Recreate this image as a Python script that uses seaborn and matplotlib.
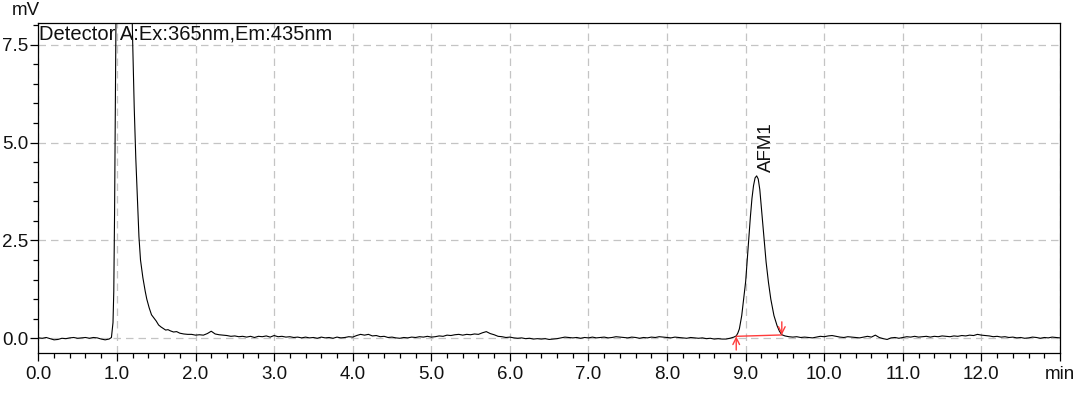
import matplotlib
matplotlib.use("Agg")
import matplotlib.pyplot as plt
import seaborn as sns
import pandas as pd
from matplotlib.ticker import MultipleLocator, FixedLocator, FixedFormatter

# ---- data (time in min, signal in mV) ----
time_pre = [0.00, 0.05, 0.10, 0.15, 0.20, 0.25, 0.30, 0.35, 0.40, 0.45, 0.50,
            0.55, 0.60, 0.65, 0.70, 0.75, 0.80, 0.85, 0.90]
sig_pre = [0.01, 0.00, 0.02, -0.01, -0.04, -0.03, 0.00, -0.01, 0.01, 0.02, 0.00,
           0.01, 0.02, 0.00, 0.02, 0.01, -0.02, -0.04, -0.02]

time_solvent = [0.93, 0.95, 0.96, 0.97, 0.98, 0.99, 1.00, 1.03, 1.07, 1.10, 1.13,
                1.16, 1.18, 1.20, 1.22, 1.24, 1.26, 1.28, 1.30, 1.33, 1.36, 1.38,
                1.41, 1.44, 1.47, 1.50, 1.53, 1.56, 1.59, 1.62, 1.65, 1.68, 1.72,
                1.76, 1.80, 1.85, 1.90, 1.95]
sig_solvent = [0.02, 0.40, 1.20, 3.20, 6.00, 8.80, 11.5, 16.0, 18.5, 18.0, 15.0,
               11.5, 9.50, 7.60, 5.90, 4.60, 3.60, 2.60, 2.00, 1.55, 1.20, 1.00,
               0.78, 0.60, 0.52, 0.44, 0.34, 0.29, 0.25, 0.21, 0.22, 0.19, 0.16,
               0.17, 0.13, 0.11, 0.10, 0.10]

time_mid = [2.00, 2.05, 2.10, 2.15, 2.20, 2.25, 2.30, 2.35, 2.40, 2.45, 2.50,
            2.55, 2.60, 2.65, 2.70, 2.75, 2.80, 2.85, 2.90, 2.95, 3.00, 3.05,
            3.10, 3.15, 3.20, 3.25, 3.30, 3.35, 3.40, 3.45, 3.50, 3.55, 3.60,
            3.65, 3.70, 3.75, 3.80, 3.85, 3.90, 3.95, 4.00, 4.05, 4.10, 4.15,
            4.20, 4.25, 4.30, 4.35, 4.40, 4.45, 4.50, 4.55, 4.60, 4.65, 4.70,
            4.75, 4.80, 4.85, 4.90, 4.95, 5.00, 5.05, 5.10, 5.15, 5.20, 5.25,
            5.30, 5.35, 5.40, 5.45, 5.50, 5.55, 5.60, 5.65, 5.70, 5.75, 5.80,
            5.85, 5.90, 5.95, 6.00, 6.05, 6.10, 6.15, 6.20, 6.25, 6.30, 6.35,
            6.40, 6.45, 6.50, 6.55, 6.60, 6.65, 6.70, 6.75, 6.80, 6.85, 6.90,
            6.95, 7.00, 7.05, 7.10, 7.15, 7.20, 7.25, 7.30, 7.35, 7.40, 7.45,
            7.50, 7.55, 7.60, 7.65, 7.70, 7.75, 7.80, 7.85, 7.90, 7.95, 8.00,
            8.05, 8.10, 8.15, 8.20, 8.25, 8.30, 8.35, 8.40, 8.45, 8.50, 8.55,
            8.60, 8.65, 8.70, 8.75, 8.80, 8.85]
sig_mid = [0.08, 0.09, 0.08, 0.12, 0.18, 0.11, 0.09, 0.08, 0.07, 0.05, 0.06,
           0.04, 0.05, 0.03, 0.05, 0.02, 0.05, 0.04, 0.06, 0.03, 0.07, 0.04,
           0.05, 0.03, 0.04, 0.02, 0.03, 0.01, 0.03, 0.01, 0.02, 0.00, 0.03,
           0.01, 0.02, 0.00, 0.03, 0.01, 0.02, 0.04, 0.03, 0.07, 0.10, 0.08,
           0.10, 0.06, 0.07, 0.04, 0.05, 0.02, 0.03, 0.01, 0.00, 0.02, 0.01,
           0.03, 0.02, 0.04, 0.03, 0.05, 0.03, 0.04, 0.06, 0.05, 0.08, 0.07,
           0.09, 0.10, 0.08, 0.10, 0.09, 0.11, 0.10, 0.14, 0.17, 0.12, 0.09,
           0.05, 0.04, 0.02, 0.03, 0.01, 0.00, 0.01, -0.01, 0.00, -0.02, -0.01,
           -0.02, -0.01, -0.03, -0.02, -0.01, 0.01, 0.03, 0.02, 0.01, 0.02, 0.00,
           0.02, 0.01, 0.03, 0.01, 0.02, 0.03, 0.01, 0.02, 0.04, 0.03, 0.02,
           0.01, 0.03, 0.02, 0.00, 0.02, 0.01, 0.03, 0.02, 0.04, 0.03, 0.02,
           0.01, 0.03, 0.02, 0.01, 0.00, 0.02, 0.01, 0.00, 0.01, -0.01, 0.00,
           -0.02, -0.01, -0.02, -0.02, 0.00, 0.03]

time_afm1 = [8.88, 8.90, 8.92, 8.95, 8.97, 9.00, 9.02, 9.04, 9.06, 9.08, 9.10,
             9.12, 9.14, 9.16, 9.18, 9.19, 9.21, 9.24, 9.26, 9.29, 9.32, 9.36,
             9.40, 9.43, 9.46]
sig_afm1 = [0.06, 0.13, 0.24, 0.58, 0.92, 1.45, 2.00, 2.55, 3.10, 3.57, 3.90,
            4.10, 4.15, 4.07, 3.80, 3.57, 3.10, 2.45, 1.95, 1.43, 1.00, 0.58,
            0.32, 0.18, 0.09]

time_post = [9.50, 9.55, 9.60, 9.65, 9.70, 9.75, 9.80, 9.85, 9.90, 9.95, 10.00,
             10.05, 10.10, 10.15, 10.20, 10.25, 10.30, 10.35, 10.40, 10.45, 10.50,
             10.55, 10.60, 10.65, 10.70, 10.75, 10.80, 10.85, 10.90, 10.95, 11.00,
             11.05, 11.10, 11.15, 11.20, 11.25, 11.30, 11.35, 11.40, 11.45, 11.50,
             11.55, 11.60, 11.65, 11.70, 11.75, 11.80, 11.85, 11.90, 11.95, 12.00,
             12.05, 12.10, 12.15, 12.20, 12.25, 12.30, 12.35, 12.40, 12.45, 12.50,
             12.55, 12.60, 12.65, 12.70, 12.75, 12.80, 12.85, 12.90, 12.95, 13.00]
sig_post = [0.06, 0.04, 0.03, 0.04, 0.02, 0.03, 0.02, 0.01, 0.03, 0.05, 0.04,
            0.06, 0.07, 0.05, 0.03, 0.02, 0.04, 0.03, 0.02, 0.01, 0.03, 0.05,
            0.03, 0.08, 0.02, -0.01, -0.03, 0.01, 0.02, 0.00, 0.02, 0.04, 0.03,
            0.05, 0.03, 0.04, 0.05, 0.03, 0.05, 0.04, 0.06, 0.05, 0.04, 0.06,
            0.05, 0.07, 0.06, 0.08, 0.07, 0.10, 0.08, 0.07, 0.06, 0.04, 0.05,
            0.03, 0.04, 0.02, 0.03, 0.01, 0.02, 0.00, 0.01, 0.03, 0.02, 0.00,
            0.02, 0.01, 0.03, 0.02, 0.01]

# integration baseline (start/end) of the AFM1 peak
integ_time = [8.88, 9.46]
integ_sig = [0.05, 0.085]
peak_label = "AFM1"
peak_label_pos = (9.27, 4.25)

x_ticks = [0, 1, 2, 3, 4, 5, 6, 7, 8, 9, 10, 11, 12, 13]
x_tick_labels = ["0.0", "1.0", "2.0", "3.0", "4.0", "5.0", "6.0", "7.0", "8.0",
                 "9.0", "10.0", "11.0", "12.0", "min"]
y_ticks = [0.0, 2.5, 5.0, 7.5]
y_tick_labels = ["0.0", "2.5", "5.0", "7.5"]
title_text = "Detector A:Ex:365nm,Em:435nm"
y_unit = "mV"

df = pd.DataFrame({
    "time": time_pre + time_solvent + time_mid + time_afm1 + time_post,
    "signal": sig_pre + sig_solvent + sig_mid + sig_afm1 + sig_post,
})

# ---- styling ----
sns.set_theme(style="white")
plt.rcParams["font.family"] = ["Liberation Sans", "DejaVu Sans"]

fig = plt.figure(figsize=(10.8, 3.94), dpi=100)
ax = fig.add_axes([0.0355, 0.1033, 0.9460, 0.8376])

sns.lineplot(data=df, x="time", y="signal", ax=ax, color="black",
             linewidth=0.8, sort=False, estimator=None)

ax.set_xlim(0, 13)
ax.set_ylim(-0.384, 8.05)

ax.xaxis.set_major_locator(FixedLocator(x_ticks))
ax.xaxis.set_major_formatter(FixedFormatter(x_tick_labels))
ax.xaxis.set_minor_locator(MultipleLocator(0.2))
ax.yaxis.set_major_locator(FixedLocator(y_ticks))
ax.yaxis.set_major_formatter(FixedFormatter(y_tick_labels))
ax.yaxis.set_minor_locator(MultipleLocator(0.5))

ax.tick_params(axis="both", which="major", direction="out", length=6, width=0.9,
               color="black", labelsize=13.5, pad=3.5, labelcolor="#111111")
ax.tick_params(axis="both", which="minor", direction="out", length=3.6, width=0.9,
               color="black")
ax.tick_params(axis="x", which="both", bottom=True)
ax.tick_params(axis="y", which="both", left=True, pad=1)

ax.grid(True, which="major", color="#c4c4c4", linestyle=(0, (6, 4)), linewidth=0.9)
ax.set_axisbelow(True)
for sp in ax.spines.values():
    sp.set_visible(True)
    sp.set_color("black")
    sp.set_linewidth(0.9)

ax.set_xlabel("")
ax.set_ylabel("")

# integration markers
red = "#ff3b3b"
ax.plot(integ_time, integ_sig, color=red, linewidth=1.0)
ax.annotate("", xy=(integ_time[0], integ_sig[0]), xytext=(integ_time[0], -0.30),
            arrowprops=dict(arrowstyle="->", color=red, lw=1.0,
                            shrinkA=0, shrinkB=0, mutation_scale=12),
            annotation_clip=False)
ax.annotate("", xy=(integ_time[1], integ_sig[1]), xytext=(integ_time[1], 0.42),
            arrowprops=dict(arrowstyle="->", color=red, lw=1.0,
                            shrinkA=0, shrinkB=0, mutation_scale=12))

ax.text(peak_label_pos[0], peak_label_pos[1], peak_label, rotation=90,
        ha="center", va="bottom", fontsize=13.5, color="#111111")

ax.text(0.001, 0.997, title_text, transform=ax.transAxes, ha="left", va="top",
        fontsize=14.5, color="#111111")
fig.text(0.011, 0.995, y_unit, ha="left", va="top", fontsize=13.5, color="#111111")

fig.savefig("out.png", dpi=100)
